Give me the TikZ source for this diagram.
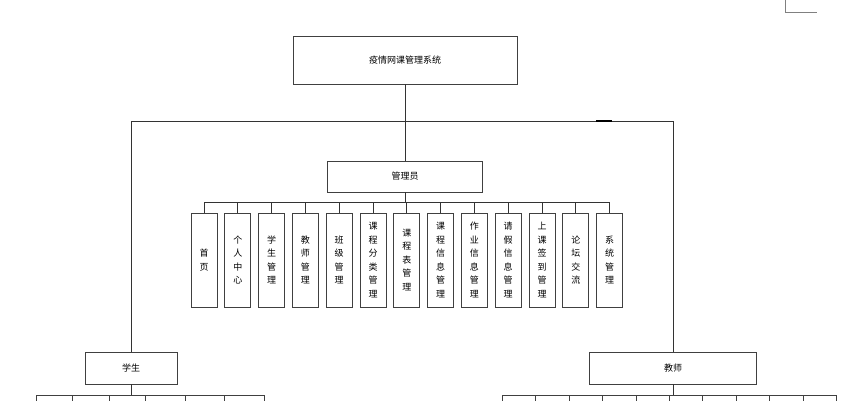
\documentclass[tikz,border=0pt]{standalone}
\usepackage{fontspec}
\usetikzlibrary{calc}
\newfontfamily\cjk{Noto Sans CJK SC}
\begin{document}
\begin{tikzpicture}[x=1pt,y=-1pt,
  box/.style={draw=black!75,line width=0.8pt,fill=white,inner sep=0pt,font=\cjk\fontsize{9}{10}\selectfont},
  vbox/.style={box,minimum width=26pt,minimum height=94pt,align=center,font=\cjk\fontsize{9}{13.5}\selectfont},
  link/.style={draw=black!80,line width=0.8pt}]
\useasboundingbox (0,0) rectangle (850,400);
\clip (0,0) rectangle (850,400);
\node[box,minimum width=224pt,minimum height=48pt] (sys) at (405,60) {疫情网课管理系统};
\node[box,minimum width=155pt,minimum height=31pt] (admin) at (405,176.5) {管理员};
\node[box,minimum width=92pt,minimum height=32pt] (stu) at (131,368) {学生};
\node[box,minimum width=167pt,minimum height=32pt] (tea) at (673,368) {教师};
\coordinate (bl) at (131,121);
\coordinate (br) at (673,121);
\draw[link] (sys.south) -- (admin.north);
\draw[link] (bl) -- (br);
\draw[link] (bl) -- (stu.north);
\draw[link] (br) -- (tea.north);
\draw[line width=1.6pt] (596,121) -- (612,121);
\draw[black!50,line width=0.6pt] (785,0) -- (785,12) -- (817,12);
\foreach \t [count=\i] in {首\\页,个\\人\\中\\心,学\\生\\管\\理,教\\师\\管\\理,班\\级\\管\\理,课\\程\\分\\类\\管\\理,课\\程\\表\\管\\理,课\\程\\信\\息\\管\\理,作\\业\\信\\息\\管\\理,请\\假\\信\\息\\管\\理,上\\课\\签\\到\\管\\理,论\\坛\\交\\流,系\\统\\管\\理}{
  \node[vbox] (a\i) at ({204+33.8*(\i-1)},260) {\t};
  \draw[link] (a\i.north) -- ++(0,-10);
}
\draw[link] ($(a1.north)+(0,-10)$) -- ($(a13.north)+(0,-10)$);
\draw[link] (admin.south) -- (405,203);
\foreach \x/\w [count=\i] in {36/36,72/37,109/36,145/40,185/39,224/40}{
  \node[box,minimum width=\w pt,minimum height=30pt,anchor=north west] (s\i) at (\x,395) {};
}
\foreach \i in {0,...,9}{
  \node[box,minimum width=33.4pt,minimum height=30pt,anchor=north west] (t\i) at ({502+33.4*\i},395) {};
}
\draw[link] (stu.south) -- (131,395);
\draw[link] (tea.south) -- (673,395);
\end{tikzpicture}
\end{document}
